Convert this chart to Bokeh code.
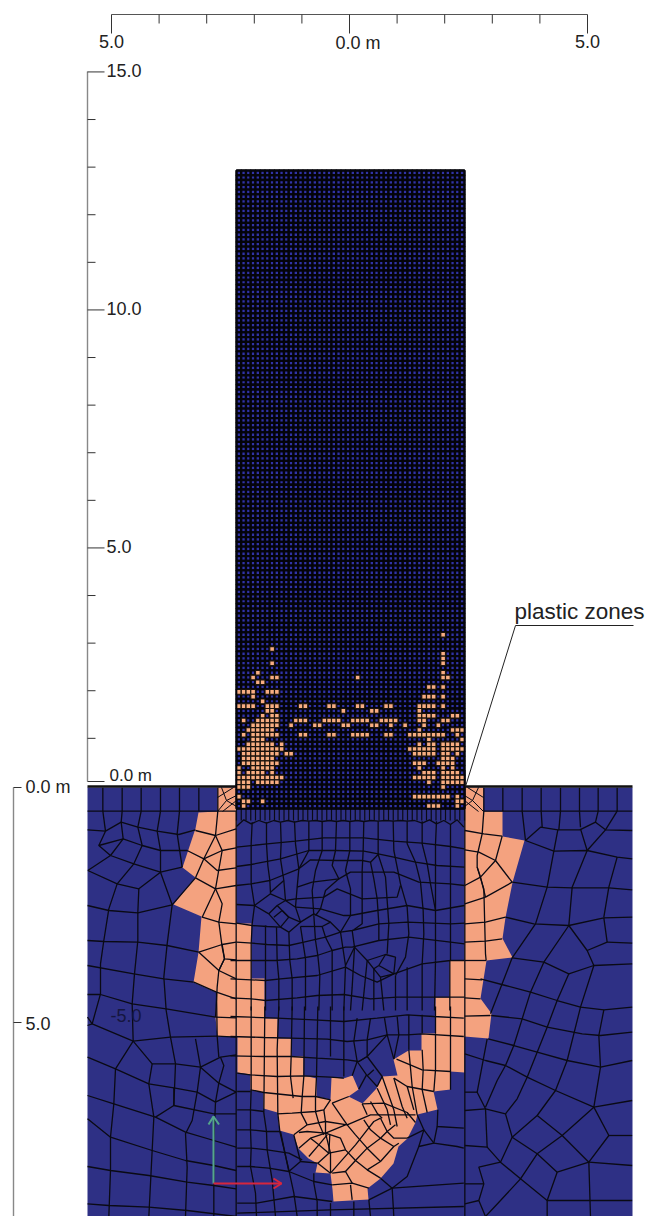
from bokeh.plotting import figure
from bokeh.embed import file_html
from bokeh.resources import INLINE
from bokeh.core.properties import value
from bokeh.models import Range1d
import numpy as np

NAVY = "#2E3085"
SALMON = "#F4A27F"
CELL_ORANGE = "#F8AE82"
FONT = "Liberation Sans"

# drawing scale of the source sheet (sheet units per metre) and its origin
UNITS_PER_M = 47.6
ORIGIN_X, ORIGIN_Y = 349.0, 786.0

def mx(u):
    return (np.asarray(u, dtype=float) - ORIGIN_X) / UNITS_PER_M

def my(v):
    return (ORIGIN_Y - np.asarray(v, dtype=float)) / UNITS_PER_M

# ---------- foundation soil boundary and plastic region (sheet units) ----------
SOIL_BOX = [(87, 787), (632, 787), (632, 1216), (87, 1216)]
PLASTIC_REGION = [
    (217,787),(217,811),(198,812),(195,828),(182,867),(195,877),(173,904),(201,916),(198,952),
    (193,982),(216,992),(215,1017),(217,1036),(237,1036),(237,1072),(250,1074),(250,1090),(263,1092),
    (263,1108),(277,1112),(279,1130),(293,1134),(298,1148),(308,1158),(317,1163),(315,1172),(330,1173),
    (332,1189),(333,1201),(368,1199),(367,1188),(380,1178),(393,1163),(398,1146),(407,1138),(415,1122),
    (417,1114),(437,1109),(433,1091),(450,1089),(450,1071),(464,1072),(464,1036),(488,1038),(491,1013),
    (480,998),(486,960),(512,957),(502,938),(505,917),(512,882),(524,840),(502,836),(502,811),(483,811),
    (483,787),(464,787),(464,960),(449,960),(449,997),(435,997),(435,1033),(421,1033),(421,1050),(408,1050),
    (393,1059),(397,1075),(382,1076),(376,1088),(362,1103),(348,1096),(358,1089),(352,1075),(343,1078),
    (331,1077),(330,1099),(316,1096),(316,1078),(303,1075),(303,1056),(291,1056),(291,1038),(277,1038),
    (277,1018),(264,1018),(264,978),(251,978),(251,923),(236,923),(236,787),
]

SHEET_LEFT = (0, 770, [
    [(261,122),(707,122)],
    [(307,52),(307,122)],[(365,52),(365,122)],[(422,52),(422,122)],[(480,52),(480,122)],[(537,52),(537,122)],
    [(595,52),(595,122)],[(652,52),(652,122)],
    [(307,122),(315,182)],[(365,122),(362,155)],[(422,122),(412,170)],[(480,122),(470,182)],[(537,122),(530,190)],
    [(261,178),(315,182),(362,155),(412,170),(470,182),(535,192),(585,178)],
    [(315,182),(295,225),(330,255),(262,300)],
    [(295,225),(368,205),(425,225),(480,240),(560,240)],
    [(362,155),(368,205),(330,255)],[(412,170),(425,225),(400,280)],[(470,182),(480,240),(480,305)],[(530,190),(545,290)],
    [(330,255),(400,280),(480,305),(545,290)],
    [(262,300),(350,340),(415,355),(480,305)],[(400,280),(350,340)],
    [(480,305),(515,403),(585,322)],
    [(350,340),(325,415),(310,510),(300,580),(300,670),(275,760)],
    [(415,355),(412,425),(412,510),(402,610),(395,700),(398,812)],
    [(261,405),(325,420),(412,427),(515,403)],
    [(515,403),(500,520),(490,620),(497,720),(510,800),(525,880),(520,1005),(465,1040)],
    [(261,510),(310,513),(412,515),(500,525),(595,545)],
    [(261,585),(400,610),(490,625),(580,635)],
    [(261,672),(300,672),(395,700),(497,715),(645,740)],
    [(261,740),(275,760),(398,812),(510,800),(650,797)],
    [(275,760),(261,765)],
    [(398,812),(345,895),(340,1000),(330,1100),(330,1200),(325,1338)],
    [(398,812),(455,880),(525,880),(600,890),(660,860),(707,853)],
    [(261,860),(345,895),(445,940),(520,952),(590,965),(645,995),(707,965)],
    [(455,880),(445,940),(460,1040),(455,1140),(445,1338)],
    [(600,890),(655,938),(670,885),(660,860)],[(655,938),(645,995)],[(655,938),(707,965)],
    [(585,805),(600,890),(590,965),(575,1050),(555,1090),(560,1190),(555,1338)],
    [(648,665),(650,797),(655,860)],
    [(261,975),(340,1000),(465,1040),(555,1085),(640,1110),(707,1130)],
    [(261,1045),(330,1100),(455,1140),(555,1170),(640,1185),(707,1200)],
    [(261,1188),(330,1200),(445,1215),(560,1235),(640,1245),(707,1255)],
    [(261,1300),(325,1305),(445,1310),(560,1320),(707,1338)],
    [(520,1005),(520,952)],[(520,1005),(640,1030),(707,1030)],
    [(645,995),(640,1110),(640,1338)],
    [(707,122),(707,1338)],
    # plastic band, left
    [(652,122),(645,195),(665,240),(645,355),(665,400),(655,455),(665,530),(672,565),(655,600),(650,650),(645,740)],
    [(585,180),(645,195),(707,175)],
    [(560,240),(610,265),(665,240),(707,232)],
    [(585,322),(645,355),(707,345)],
    [(645,195),(610,265),(585,322)],
    [(610,265),(650,300),(707,292)],
    [(645,355),(605,440),(655,455),(707,460)],
    [(595,545),(665,522),(707,515)],
    [(665,522),(672,565),(707,568)],
    [(595,545),(655,600),(672,565)],
    [(655,600),(707,625)],
    [(580,635),(648,665),(707,685)],
    [(645,740),(707,742)],
    [(650,797),(707,800)],
])

SHEET_CENTRE_UP = (230, 800, [
    [(18,78),(40,58),(62,70),(85,60),(108,68),(130,60),(150,65),(172,60),(192,65),(215,60),(235,62),(255,60),(275,63),
     (297,60),(318,63),(338,60),(358,63),(380,60),(400,63),(422,60),(443,62),(465,60),(488,62),(510,60),(530,62),
     (552,60),(575,68),(597,58),(618,70),(640,60),(660,72),(680,58),(700,80)],
    [(65,65),(62,130),(62,190),(62,250),(72,315),(65,370),(62,430),(62,480),(62,540),(62,630)],
    [(108,65),(108,130),(112,195),(118,240),(120,280)],
    [(150,65),(152,125),(150,175),(160,240),(165,300)],
    [(192,62),(195,130),(205,205),(200,260),(195,320)],
    [(235,62),(235,150),(205,205)],
    [(275,62),(275,150),(255,210),(245,270),(250,345)],
    [(318,62),(315,150),(305,195),(325,235),(285,270),(270,325),(255,345)],
    [(358,62),(358,150),(345,210),(360,265),(360,345),(330,395)],
    [(400,62),(398,150),(395,210),(395,295),(395,370),(370,388)],
    [(443,62),(443,162),(420,185),(430,235),(440,295),(445,370),(445,420)],
    [(443,162),(465,230),(470,300),(475,370),(470,460)],
    [(488,62),(490,150),(510,250),(530,320),(535,400),(525,470),(495,525)],
    [(530,62),(530,130),(555,185),(570,245),(578,330),(580,400),(575,490)],
    [(575,62),(575,130),(590,190),(600,250),(615,330),(615,480)],
    [(618,62),(615,130),(615,250),(615,330)],
    [(660,72),(660,250),(660,370),(660,480)],
    [(18,140),(110,130),(195,122),(280,112),(400,112),(490,122),(575,128),(660,138),(702,145)],
    [(18,198),(62,192),(150,175),(235,150),(315,150),(400,152),(443,160),(490,170),(555,185),(620,195),(702,200)],
    [(18,255),(62,250),(118,240),(205,205),(240,178),(318,180),(395,180),(420,185)],
    [(200,260),(245,245),(325,235),(360,215),(430,215),(490,215),(565,245),(660,250),(702,255)],
    [(165,300),(195,295),(280,290),(320,265),(395,295),(500,290),(510,255)],
    [(120,275),(160,240)],
    [(195,320),(270,325),(340,345),(360,345),(440,330),(530,315),(615,330),(702,315)],
    [(210,365),(250,340),(300,365),(330,395),(365,390),(445,370),(530,365),(660,370),(702,368)],
    [(275,378),(300,365)],[(275,378),(210,378)],
    [(18,312),(72,315),(120,280),(165,300),(195,320),(210,365),(175,395),(150,380),(115,340),(72,315)],
    [(115,340),(140,315),(165,300)],[(140,315),(175,350),(210,365)],[(175,350),(150,380)],[(130,350),(155,330),(175,350)],
    [(18,368),(65,375),(110,378),(150,380)],
    [(18,425),(65,428),(110,432),(175,435),(220,425),(285,410),(330,395)],
    [(0,480),(60,480),(135,480),(200,475),(260,465),(305,450),(345,440),(365,440),(445,420),(535,410),(660,425),(702,430)],
    [(0,535),(62,538),(105,540),(150,535),(260,525),(345,500),(390,525),(440,545),(490,520),(575,490),(660,480),(702,480)],
    [(0,592),(62,595),(105,600),(200,592),(260,585),(340,582),(420,595),(500,590),(615,590),(702,590)],
    [(105,375),(105,630)],[(138,380),(140,480),(145,535),(145,630)],[(175,395),(178,480),(185,535),(185,630)],
    [(210,378),(218,430),(225,475),(225,535),(225,630)],
    [(250,345),(255,420),(262,465),(268,525),(265,630)],
    [(275,378),(285,410),(305,450),(305,630)],
    [(330,395),(345,495),(340,630)],
    [(365,390),(372,440),(345,495)],
    [(372,440),(365,560),(360,630)],
    [(372,440),(410,480),(465,462),(495,470),(490,520),(450,530),(430,505),(410,480)],
    [(410,480),(395,630)],[(430,505),(430,630)],[(450,530),(460,630)],[(445,495),(430,505)],[(445,495),(465,462)],[(445,495),(490,520)],
    [(495,525),(495,630)],[(530,500),(530,630)],[(575,490),(575,630)],[(615,480),(612,630)],[(658,480),(658,630)],
])

SHEET_CENTRE_LOW = (230, 1006, [
    [(0,30),(60,32),(140,35),(250,40),(340,45),(440,35),(530,25),(610,30),(700,35)],
    [(0,90),(100,93),(180,95),(290,98),(350,105),(410,100),(470,85),(530,85),(575,82),(700,90)],
    [(0,148),(100,150),(180,150),(260,155),(350,160),(385,165),(410,150),(470,85)],
    [(20,200),(60,205),(140,210),(220,208),(300,212),(340,215)],
    [(60,250),(100,258),(215,270),(255,270),(300,280)],
    [(20,255),(60,255)],[(20,310),(60,310),(100,315)],[(20,370),(60,370),(108,375),(148,375)],
    [(20,425),(62,425),(110,430),(175,440),(215,460)],
    [(20,480),(60,480),(115,485),(175,495),(250,525),(305,535)],
    [(20,590),(78,590),(190,570),(305,585)],
    [(62,0),(62,250),(60,310),(60,370),(62,425),(60,480),(75,560),(78,630)],[(103,0),(100,320),(108,375),(110,430),(125,520),(135,630)],
    [(145,0),(140,130),(142,320),(148,375),(175,490),(190,560),(200,630)],
    [(185,0),(182,150),(180,210),(188,275)],[(222,0),(220,210),(215,272),(212,320),(230,355)],
    [(262,0),(258,210),(255,270),(255,315),(265,350),(280,385)],
    [(300,0),(300,98),(300,150)],[(340,0),(340,100),(340,210)],
    [(380,35),(370,105),(380,165),(365,208)],[(420,35),(410,100),(410,150),(385,165)],
    [(380,165),(408,205),(440,240),(455,210),(410,150)],[(408,205),(385,248)],[(430,190),(410,208)],
    [(462,35),(470,85),(490,158)],[(500,30),(505,85),(490,158)],
    [(535,25),(535,130)],[(575,25),(575,80)],[(615,0),(615,80)],[(660,0),(660,250)],
    # plastic fan
    [(140,322),(185,320),(255,315),(280,310),(300,280)],
    [(190,385),(230,355),(285,345),(350,355),(420,325),(500,325),(555,325)],
    [(205,378),(230,375),(285,380),(345,355)],
    [(285,345),(285,380),(300,440),(300,500)],
    [(280,310),(285,345)],
    [(240,395),(285,380)],[(235,450),(265,415),(290,385)],[(262,470),(295,440),(298,385)],[(205,425),(240,395),(265,415),(295,440),(345,430)],
    [(285,380),(330,395),(345,430),(375,462),(410,490),(450,515)],
    [(300,500),(335,460),(375,415),(410,370),(430,345),(450,335)],
    [(345,495),(375,462),(410,425),(450,395),(470,375),(495,355)],
    [(410,490),(450,465),(490,420),(505,410)],
    [(350,355),(375,385),(410,425),(450,465)],
    [(400,340),(420,370),(450,395),(490,420)],
    [(450,335),(470,375),(490,395),(530,395)],
    [(305,500),(345,495),(365,530)],[(300,500),(262,470)],
    [(305,290),(355,270)],[(350,355),(305,290)],[(305,535),(365,530),(415,545)],[(360,535),(365,580)],
    [(395,292),(410,325)],[(420,285),(440,320),(455,335)],[(440,245),(470,310),(480,355)],
    [(455,210),(490,310),(500,360)],[(490,215),(515,300),(530,335)],[(530,240),(550,310)],[(575,250),(590,318)],
    [(535,130),(545,240),(560,325)],[(490,215),(530,240),(610,255)],[(498,158),(575,190),(660,195)],
    [(395,292),(460,290),(530,318),(555,348)],
    [(575,130),(578,190),(575,250)],[(615,80),(615,190),(610,255)],
    # surrounding cells
    [(190,385),(210,465),(175,495),(150,375)],[(210,465),(262,470)],[(250,500),(250,530),(260,585),(260,630)],
    [(485,545),(450,515)],[(415,580),(485,545),(530,510),(565,420),(610,410),(620,360)],[(530,395),(580,370),(610,410),(680,420),(700,425)],
    [(560,325),(580,370),(565,420)],[(622,310),(620,360),(700,365)],
    [(485,545),(700,530)],[(300,590),(300,630)],[(370,585),(370,630)],[(415,580),(420,630)],[(485,545),(490,630)],
    [(20,620),(300,610),(700,600)],
])

SHEET_RIGHT = (320, 770, [
    [(490,122),(935,122)],
    [(547,52),(547,122)],[(605,52),(605,122)],[(662,52),(662,122)],[(720,52),(720,122)],[(777,52),(777,122)],
    [(833,52),(833,122)],[(890,52),(890,122)],
    [(605,122),(615,210),(660,170),(712,178),(778,178),(825,155),(855,178),(935,180)],
    [(662,122),(665,170)],[(720,122),(715,178)],[(777,122),(780,170)],[(833,122),(825,155)],[(890,122),(855,178)],
    [(615,210),(700,242),(800,240),(890,260),(935,265)],
    [(712,178),(700,242),(680,350),(645,460)],
    [(780,175),(800,240),(755,350),(745,465)],[(855,178),(800,240)],
    [(890,260),(865,350),(850,440)],
    [(575,335),(680,350),(755,352),(865,352),(935,358)],
    [(555,440),(640,460),(745,465),(850,442),(935,440)],
    [(745,465),(800,540),(820,585),(745,610),(670,575),(745,465)],
    [(850,442),(860,515),(800,540)],[(860,515),(935,518)],
    [(575,562),(670,575)],
    [(645,460),(575,562),(545,640),(510,730)],
    [(670,575),(630,665),(605,745),(580,825),(555,885),(530,930),(495,1010)],
    [(820,585),(935,580)],[(820,585),(780,710),(740,870),(705,960),(650,1035)],
    [(745,610),(710,690),(680,770),(650,845),(620,920),(590,985),(555,1030)],
    [(480,625),(555,645),(630,665),(710,690),(780,710),(850,718),(935,710)],
    [(512,735),(605,745),(680,770),(785,790),(840,795),(935,785)],
    [(503,805),(580,825),(650,845),(740,870),(840,890),(935,870)],
    [(433,850),(495,870),(555,885),(620,920),(705,960),(820,1010)],
    [(850,718),(835,795),(840,890),(820,1010),(865,1095),(805,1175),(710,1205),(650,1150),(575,1100),(555,1030),(495,1015),(470,965),(500,805)],
    [(820,1010),(935,990)],[(865,1095),(935,1095)],[(820,1010),(725,1095),(650,1035),(575,1100)],
    [(725,1095),(805,1175)],[(725,1095),(650,1150),(600,1225),(540,1175),(575,1100)],
    [(805,1175),(935,1185)],[(805,1175),(810,1338)],[(710,1205),(680,1290),(680,1338)],[(600,1225),(680,1290),(935,1290)],
    [(600,1225),(540,1290),(495,1338)],[(540,1175),(475,1190),(490,1240),(475,1290),(495,1338)],
    [(433,965),(470,965)],[(433,1020),(495,1015)],[(433,1125),(500,1130),(540,1175)],[(433,1240),(490,1240)],[(433,1300),(475,1290)],
    [(495,1015),(500,1130)],[(433,0),(433,1338)],
    # plastic band, right
    [(433,180),(490,190),(545,197)],
    [(490,52),(490,122),(485,190),(470,255),(470,290),(490,355),(495,550),(497,570)],
    [(433,238),(475,245),(525,270),(575,335)],
    [(545,197),(525,270),(480,320),(433,345)],
    [(470,290),(480,320)],[(480,320),(495,380),(575,335)],[(495,380),(433,400)],
    [(433,460),(495,455),(555,440)],[(433,515),(495,512),(545,505)],[(433,570),(497,570)],
    [(433,625),(485,628)],[(433,682),(480,685)],[(433,737),(510,735)],
])

# column cells: 48 columns, 134 rows
N_COL, N_ROW = 48, 134
COLUMN_LEFT, COLUMN_RIGHT, COLUMN_TOP, COLUMN_BOTTOM = 236, 464, 170, 808

# plastic cells per column row: row index -> column indices
PLASTIC_CELLS = {
    98:[43],101:[7],102:[43],103:[43],104:[7,43],106:[4,43],
    107:[3,7,8,25,43,44],108:[4,5],109:[40,41,43],110:[0,1,2,3,6,7,8],111:[3,39,40,41,43],112:[5],
    113:[0,1,2,3,6,7,8,13,14,19,20,25,26,31,32,38,39,40,41,43],
    114:[6,7,22,28,29,38],115:[5,7,8,38,39,40,41,45,46],
    116:[1,4,5,6,7,8,12,13,14,18,19,20,21,24,25,26,27,30,31,32,33,38,39,43,44],
    117:[3,4,5,6,7,8,11,16,17,22,23,28,29,32,35,39,42],
    118:[2,3,4,5,6,7,38,45,46,47],
    119:[1,3,4,5,6,7,8,13,14,19,20,24,25,26,27,31,32,36,37,38,39,40,41,42,43,46],
    120:[3,4,5,40,47],121:[2,3,4,5,6,7,9,38,40,41,43,44,45,46],
    122:[0,1,2,3,4,5,6,7,8,9,36,37,38,39,40,41,43,44,45,46,47],
    123:[1,2,3,4,5,6,7,8,10,11,37,38,39,40,41,43,44,46],
    124:[1,2,3,4,5,6,7,43,44,45],
    125:[1,2,3,4,5,6,7,8,37,38,39,42,43,44,45],
    126:[0,3,4,5,6,7,38,43,45],127:[0,2,3,4,5,7,39,40,41,43,44,45,46],
    128:[0,1,2,3,4,5,6,7,8,9,37,38,39,40,41,43,44,45,46,47],
    129:[0,1,2,4,5,6,7,8,40,43,44,45,46,47],130:[0,1,2,43],132:[0,37,38,39,40,41,42,43,44,46],
    133:[1,2,5,46,47],134:[1,40,41,42,46],
}

# scales
TOP_TICKS_M = [-5, -4, -3, -2, -1, 0, 1, 2, 3, 4, 5]
HEIGHT_TICKS_M = [15, 14, 13, 12, 11, 10, 9, 8, 7, 6, 5, 4, 3, 2, 1]
TOP_LABELS = [(-5, "5.0"), (0.18, "0.0 m"), (5, "5.0")]
HEIGHT_LABELS = [(15, "15.0"), (10, "10.0"), (5, "5.0")]

W, H = 645, 1216
x0, x1 = float(mx(0)), float(mx(W))
y0, y1 = float(my(H)), float(my(0))

p = figure(width=W, height=H, output_backend="svg", toolbar_location=None,
           x_range=Range1d(x0, x1), y_range=Range1d(y0, y1), min_border=0,
           x_axis_type=None, y_axis_type=None, outline_line_color=None, background_fill_color="white")
p.grid.visible = False

# soil
sb = np.array(SOIL_BOX)
p.patch(mx(sb[:, 0]), my(sb[:, 1]), fill_color=NAVY, line_color=None)
pr = np.array(PLASTIC_REGION)
p.patch(mx(pr[:, 0]), my(pr[:, 1]), fill_color=SALMON, line_color=None)

# mesh
xs, ys = [], []
for ox, oy, lines in (SHEET_LEFT, SHEET_CENTRE_UP, SHEET_CENTRE_LOW, SHEET_RIGHT):
    for ln in lines:
        a = np.array(ln, dtype=float)
        xs.append(mx(np.minimum(ox + a[:, 0] / 3, 632)))
        ys.append(my(np.minimum(oy + a[:, 1] / 3, 1216)))
p.multi_line(xs, ys, line_color="#0A0A14", line_width=1.3)

# ground line
p.line(mx([87, 632]), my([786, 786]), line_color="#111111", line_width=2.6)

# stripes below column
col_edges = np.linspace(COLUMN_LEFT, COLUMN_RIGHT, N_COL + 1)
row_edges = np.linspace(COLUMN_TOP, COLUMN_BOTTOM, N_ROW + 1)
p.segment(mx(col_edges), my(np.full(N_COL + 1, COLUMN_BOTTOM)), mx(col_edges), my(np.full(N_COL + 1, 820)),
          line_color="#0A0A14", line_width=1.2)

# small fans in the corners
FAN_LEFT = [[(217,811),(226,800),(236,795)],[(221,787),(226,800),(236,806)],[(222,811),(236,800)],[(217,797),(233,787)]]
FAN_RIGHT = [[(483,811),(472,800),(464,795)],[(478,787),(472,800),(464,806)],[(478,811),(464,800)],[(483,797),(467,787)]]
for fan in (FAN_LEFT, FAN_RIGHT):
    p.multi_line([mx(np.array(f)[:, 0]) for f in fan], [my(np.array(f)[:, 1]) for f in fan], line_color="#0A0A14", line_width=1)

# column cells
cl, cr, rt, rb = [], [], [], []
ol, or_, ot, ob = [], [], [], []
for r in range(N_ROW):
    plastic = PLASTIC_CELLS.get(r + 1, [])
    for c in range(N_COL):
        cl.append(col_edges[c]); cr.append(col_edges[c + 1])
        rt.append(row_edges[r]); rb.append(row_edges[r + 1])
        if c in plastic:
            ol.append(col_edges[c]); or_.append(col_edges[c + 1])
            ot.append(row_edges[r]); ob.append(row_edges[r + 1])
p.quad(left=mx(cl), right=mx(cr), top=my(rt), bottom=my(rb), fill_color="#3033A6", line_color="#04040A", line_width=2.3)
p.quad(left=mx(ol), right=mx(or_), top=my(ot), bottom=my(ob), fill_color=CELL_ORANGE, line_color="#1A120C", line_width=1.2)
p.quad(left=[float(mx(COLUMN_LEFT))], right=[float(mx(COLUMN_RIGHT))], top=[float(my(COLUMN_TOP))], bottom=[float(my(COLUMN_BOTTOM))],
       fill_color=None, line_color="#05050C", line_width=1.6)

# rulers
AX = "#555555"
TICK_SHIFT_M = 0.012
hticks = np.array(HEIGHT_TICKS_M, dtype=float) + TICK_SHIFT_M
p.line(mx([111, 587]), my([14, 14]), line_color=AX, line_width=1.2)
p.segment(TOP_TICKS_M, my(14), TOP_TICKS_M, [my(33) if t in (-5, 0, 5) else my(23) for t in TOP_TICKS_M], line_color="#333333", line_width=1)
p.line(mx([87, 87]), my([71, 781]), line_color="#888888", line_width=1.4)
p.segment(float(mx(87)), hticks, [float(mx(104)) if t % 5 == 0 else float(mx(95)) for t in HEIGHT_TICKS_M], hticks,
          line_color="#333333", line_width=1)
p.segment(mx([87]), my([781]), mx([104]), my([781]), line_color="#333333", line_width=1)
p.line(mx([13, 13]), my([787, 1216]), line_color="#888888", line_width=1.4)
p.segment(mx([13, 13]), my([787, 1022]), mx([21, 21]), my([787, 1022]), line_color="#333333", line_width=1)

# texts
TXT = "#222222"
def label(xm, ym, t, align="left", size="18px", color=TXT):
    p.text([xm], [ym], text=[t], text_font=value(FONT), text_font_size=size, text_color=color,
           text_align=align, text_baseline="middle")

for xm, t in TOP_LABELS:
    label(xm, float(my(41 if t == "5.0" else 42.5)), t, align="center")
for ym, t in HEIGHT_LABELS:
    label(float(mx(106)), ym + 0.045, t)
label(float(mx(109)), float(my(775)), "0.0 m", size="17px")
label(float(mx(25)), float(my(786)), "0.0 m")
label(float(mx(25)), float(my(1023)), "5.0")
label(float(mx(110)), float(my(1015)), "-5.0", color="#15163F")
label(float(mx(514)), float(my(611)), "plastic zones", size="22.5px")

# leader
p.line(mx([633, 515, 465]), my([625, 625, 786]), line_color="#222222", line_width=1)

# local axes arrows
p.multi_line([mx([213, 213]), mx([208, 213, 218.5])], [my([1183, 1116]), my([1124, 1116, 1124])], line_color="#55A58C", line_width=2)
p.multi_line([mx([213, 281]), mx([273, 281, 273])], [my([1183, 1183]), my([1178, 1183, 1188])], line_color="#D7263D", line_width=2)

open("out.html", "w").write(file_html(p, INLINE))
